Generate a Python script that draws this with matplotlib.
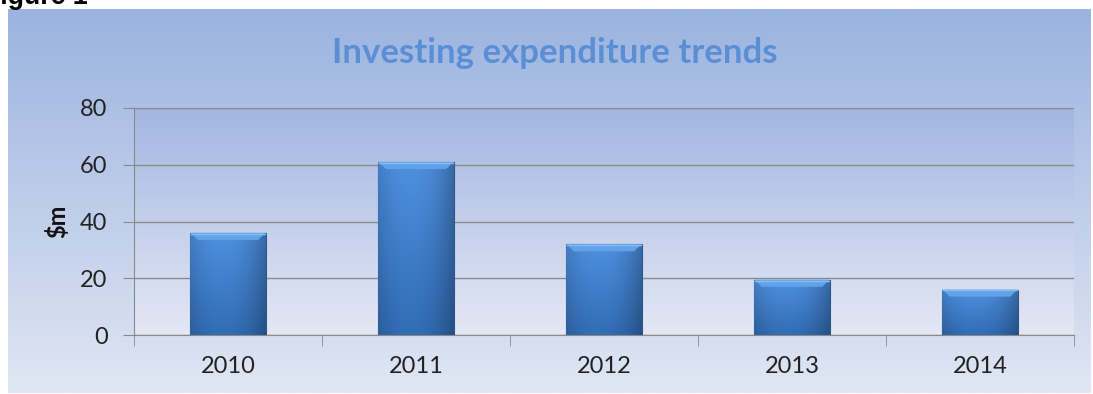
import numpy as np
import matplotlib.pyplot as plt
from matplotlib.colors import to_rgb
from matplotlib.patches import Polygon

years = ['2010', '2011', '2012', '2013', '2014']
spend = [36, 61, 32, 19.5, 16]
y_ticks = [0, 20, 40, 60, 80]

W, H = 1093, 394
plt.rcParams['font.family'] = ['Lato', 'DejaVu Sans']
fig = plt.figure(figsize=(W / 100, H / 100), dpi=100)


def vgrad(top, bottom, n=256):
    # vertical colour ramp, shape (n, 1, 3)
    t = np.linspace(0, 1, n)[:, None]
    a, b = np.array(to_rgb(top)), np.array(to_rgb(bottom))
    return (a * (1 - t) + b * t)[:, None, :]


# chart background
bg = fig.add_axes([8 / W, 1 - 393 / H, 1083 / W, 384 / H])
bg.imshow(vgrad('#9bb3e0', '#e0e6f3'), aspect='auto', extent=(0, 1, 0, 1))
bg.axis('off')

ax = fig.add_axes([134 / W, 1 - 335 / H, 940 / W, 227 / H])
ax.patch.set_visible(False)
ax.set_xlim(-0.5, len(years) - 0.5)
ax.set_ylim(0, 80)
ax.imshow(vgrad('#a2b6e2', '#e4e8f4'), aspect='auto',
          extent=(-0.5, len(years) - 0.5, 0, 80), zorder=0)

x = np.arange(len(years))
bw = 0.4
bars = ax.bar(x, spend, width=bw, color='#3d78c6', edgecolor='#2b5690',
              linewidth=0.8, zorder=3)

# shading on each bar: lighter top, darker bottom and sides
body = vgrad('#4b8bd8', '#3068ad')[:, 0, :]
u = np.linspace(-1, 1, 64)
side = 1.04 - 0.2 * np.abs(u + 0.15) ** 2.2
shade = np.clip(body[:, None, :] * side[None, :, None], 0, 1)
for xi, v, rect in zip(x, spend, bars):
    x0, x1 = xi - bw / 2, xi + bw / 2
    im = ax.imshow(shade, aspect='auto', extent=(x0, x1, 0, v), zorder=4)
    im.set_clip_path(rect)
    bh, dx = 2.5, 0.04
    ax.add_patch(Polygon([(x0, v), (x1, v), (x1 - dx, v - bh), (x0 + dx, v - bh)],
                         closed=True, facecolor='#62a2e8', edgecolor='none', zorder=5))
    ax.plot([x0 + 0.004, x1 - 0.004], [v - 0.3, v - 0.3], color='#86bdf3', lw=1, zorder=6)

ax.set_yticks(y_ticks)
ax.yaxis.grid(True, color='#8a8a8a', lw=1)
ax.set_axisbelow(True)
ax.set_xticks(x)
ax.set_xticklabels(years)
ax.set_xticks(np.arange(len(years) + 1) - 0.5, minor=True)
ax.tick_params(axis='x', which='major', length=0, pad=15, labelsize=17, labelcolor='#222222')
ax.tick_params(axis='x', which='minor', length=8, color='#8a8a8a', direction='out')
ax.tick_params(axis='y', length=8, color='#8a8a8a', pad=11, labelsize=17, labelcolor='#222222')
for s in ('top', 'right'):
    ax.spines[s].set_visible(False)
for s in ('left', 'bottom'):
    ax.spines[s].set_color('#8a8a8a')
    ax.spines[s].set_zorder(7)

fig.text(555 / W, 1 - 53 / H, 'Investing expenditure trends', ha='center', va='center',
         fontsize=25, fontweight='bold', color='#5a8fd5')
fig.text(57 / W, 1 - 221 / H, r'\$m', ha='center', va='center', rotation=90,
         fontsize=17, fontweight='bold', color='#111111')
fig.text(-16.5 / W, 1 - 4 / H, 'Figure 1', ha='left', va='baseline',
         fontsize=19.3, fontweight='bold', family='Liberation Sans', color='black')

fig.savefig('out.png', dpi=100)
